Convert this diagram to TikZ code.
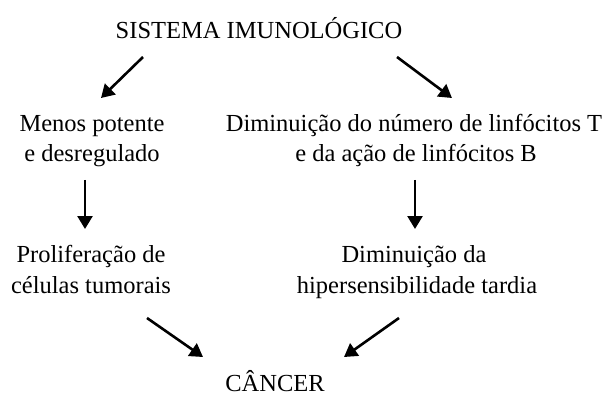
\documentclass[tikz,border=0pt]{standalone}
\usepackage{fontspec}
\setmainfont{Liberation Serif}
\usetikzlibrary{arrows.meta}

\tikzset{
  txt/.style={anchor=base, inner sep=0pt, font=\fontsize{24.5}{30}\selectfont},
  seta/.style={line width=2.6pt, -{Triangle[length=13pt,width=15pt]}}
}

\begin{document}
\begin{tikzpicture}[x=1pt, y=-1pt]
        \useasboundingbox (0,0) rectangle (609,395);
        % textos
        \node[txt] (sistema) at (259,39) {SISTEMA IMUNOLÓGICO};
        \node[txt] (menos1) at (92,132) {Menos potente};
        \node[txt] (menos2) at (92,162) {e desregulado};
        \node[txt] (dimi1) at (414,132) {Diminuição do número de linfócitos T};
        \node[txt] (dimi2) at (416,162) {e da ação de linfócitos B};
        \node[txt] (prolif1) at (91,262) {Proliferação de};
        \node[txt] (prolif2) at (91,293) {células tumorais};
        \node[txt] (hiper1) at (414,262) {Diminuição da};
        \node[txt] (hiper2) at (417,293) {hipersensibilidade tardia};
        \node[txt, text depth=0pt] (cancer) at (275,391) {CÂNCER};
        % pontas das setas
        \coordinate (s1a) at (143,57);  \coordinate (s1b) at (101,98);
        \coordinate (s2a) at (397,57);  \coordinate (s2b) at (452,98);
        \coordinate (s3a) at (85,180);  \coordinate (s3b) at (85,229);
        \coordinate (s4a) at (415,180); \coordinate (s4b) at (415,229);
        \coordinate (s5a) at (147,318); \coordinate (s5b) at (203,357);
        \coordinate (s6a) at (399,318); \coordinate (s6b) at (344,357);
        \foreach \s in {1,...,6} {
            \draw[seta] (s\s a) -- (s\s b);
        }
    \end{tikzpicture}
\end{document}
